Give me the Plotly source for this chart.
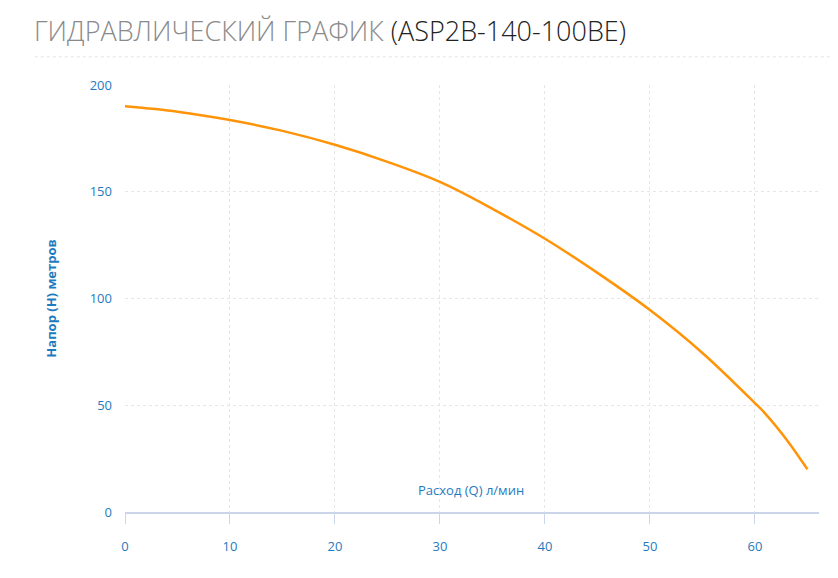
import plotly.graph_objects as go

flow = [0, 5, 10, 15, 20, 25, 30, 35, 40, 45, 50, 55, 60, 61, 63, 65]
head = [190, 187.5, 183.6, 178.5, 172, 164, 154.6, 142, 128, 112, 94.6, 74.5, 51, 46, 34, 20]

blue = "#1f7bc0"
fig = go.Figure(go.Scatter(x=flow, y=head, mode="lines", line=dict(color="#ff9408", width=2.5, shape="spline"),
                           hoverinfo="x+y"))
fig.update_layout(
    width=838, height=578, plot_bgcolor="white", paper_bgcolor="white",
    margin=dict(l=117, r=27, t=77, b=74), showlegend=False,
    font=dict(family="Open Sans", color=blue, size=13),
    xaxis=dict(range=[0, 66.1], tickvals=[0, 10, 20, 30, 40, 50, 60], showgrid=True,
               gridcolor="#e6e6e6", griddash="dot", zeroline=False, showline=True, linecolor="#ccd6eb",
               linewidth=1.5, ticks="outside", ticklen=10, tickcolor="#ccd6eb", ticklabelstandoff=12),
    yaxis=dict(range=[0, 200], tickvals=[0, 50, 100, 150, 200], showgrid=True, gridcolor="#e6e6e6",
               griddash="dot", zeroline=False, ticklabelstandoff=12,
               title=dict(text="<b>Напор (H) метров</b>", font=dict(size=13, color=blue), standoff=30)),
    shapes=[dict(type="line", xref="paper", yref="paper", x0=-0.13, x1=1.04, y0=1.066, y1=1.066,
                 line=dict(color="#e3e3e3", width=1, dash="dot"))],
    annotations=[
        dict(text="ГИДРАВЛИЧЕСКИЙ ГРАФИК <span style='color:#222'>(ASP2B-140-100BE)</span>",
             xref="paper", yref="paper", x=-0.134, y=1, yshift=55, xanchor="left", yanchor="middle",
             showarrow=False, font=dict(family="Open Sans", size=27, color="#8a8a8a", weight=300)),
        dict(text="Расход (Q) л/мин", xref="x", yref="paper", x=33, y=0.025, xanchor="center",
             yanchor="bottom", showarrow=False, font=dict(size=13, color=blue)),
    ],
)
fig.write_html("out.html")
